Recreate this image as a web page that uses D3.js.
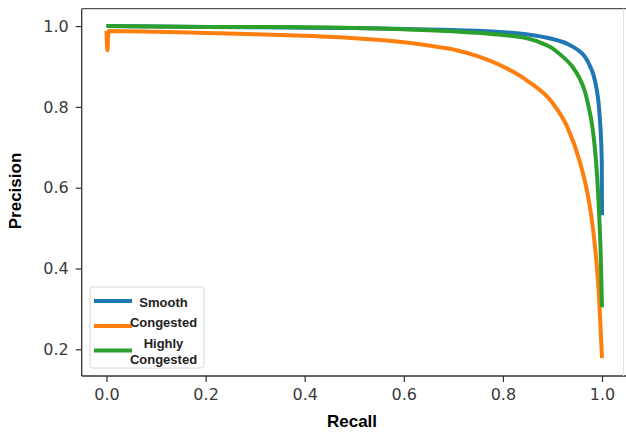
<!DOCTYPE html>
<html>
<head>
<meta charset="utf-8">
<script src="https://cdn.jsdelivr.net/npm/d3@7"></script>
<style>
  html, body { margin: 0; padding: 0; background: #fff; }
  svg { display: block; }
</style>
</head>
<body>
<svg id="chart" width="626" height="432"></svg>
<script>
// Precision-recall curves, one per traffic class.
const seriesNames = ["Smooth", "Congested", "Highly Congested"];
const seriesColors = ["#1f77b4", "#ff7f0e", "#2ca02c"];

const smoothRecall    = [0, 0.1, 0.2, 0.3, 0.4, 0.5, 0.6, 0.7, 0.8, 0.85, 0.9, 0.93, 0.95, 0.965, 0.975, 0.983, 0.989, 0.993, 0.996, 0.998, 0.9995, 1.0];
const smoothPrecision = [1.0, 0.999, 0.998, 0.997, 0.996, 0.995, 0.993, 0.99, 0.985, 0.979, 0.968, 0.956, 0.942, 0.925, 0.903, 0.878, 0.845, 0.81, 0.765, 0.72, 0.66, 0.532];

const congRecall    = [0, 0.002, 0.004, 0.1, 0.2, 0.3, 0.4, 0.5, 0.6, 0.65, 0.7, 0.75, 0.8, 0.85, 0.9, 0.93, 0.955, 0.97, 0.98, 0.987, 0.994, 1.0];
const congPrecision = [0.988, 0.94, 0.988, 0.986, 0.983, 0.98, 0.976, 0.97, 0.96, 0.952, 0.942, 0.925, 0.9, 0.864, 0.81, 0.75, 0.665, 0.59, 0.515, 0.44, 0.33, 0.178];

const highRecall    = [0, 0.2, 0.4, 0.6, 0.7, 0.8, 0.84, 0.87, 0.9, 0.92, 0.94, 0.955, 0.965, 0.973, 0.98, 0.985, 0.99, 0.994, 0.997, 1.0];
const highPrecision = [1.0, 0.998, 0.997, 0.992, 0.987, 0.978, 0.972, 0.962, 0.945, 0.925, 0.9, 0.87, 0.84, 0.8, 0.755, 0.705, 0.63, 0.54, 0.45, 0.304];

const xTicks = [0.0, 0.2, 0.4, 0.6, 0.8, 1.0];
const yTicks = [0.2, 0.4, 0.6, 0.8, 1.0];

// legend labels wrap like in the original figure
const legendLines = [["Smooth"], ["Congested"], ["Highly", "Congested"]];

const series = [
  {name: seriesNames[0], color: seriesColors[0], values: smoothRecall.map((r, i) => ({r, p: smoothPrecision[i]}))},
  {name: seriesNames[1], color: seriesColors[1], values: congRecall.map((r, i) => ({r, p: congPrecision[i]}))},
  {name: seriesNames[2], color: seriesColors[2], values: highRecall.map((r, i) => ({r, p: highPrecision[i]}))}
];

const svg = d3.select("#chart");

const plot = {left: 81.7, right: 626.8, top: 8.7, bottom: 376};

const x = d3.scaleLinear().domain([-0.05, 1.05]).range([plot.left, plot.right]);
const y = d3.scaleLinear().domain([0.134, 1.043]).range([plot.bottom, plot.top]);

// lines
const line = d3.line()
  .x(d => x(d.r))
  .y(d => y(d.p))
  .curve(d3.curveMonotoneX);

svg.append("g")
  .selectAll("path")
  .data(series)
  .join("path")
    .attr("d", d => line(d.values))
    .attr("fill", "none")
    .attr("stroke", d => d.color)
    .attr("stroke-width", 4)
    .attr("stroke-linejoin", "round");

// axes
const xAxis = svg.append("g")
  .attr("transform", `translate(0,${plot.bottom})`)
  .call(d3.axisBottom(x).tickValues(xTicks).tickFormat(d3.format(".1f")).tickSizeInner(6).tickSizeOuter(0).tickPadding(7));

const yAxis = svg.append("g")
  .attr("transform", `translate(${plot.left},0)`)
  .call(d3.axisLeft(y).tickValues(yTicks).tickFormat(d3.format(".1f")).tickSizeInner(6).tickSizeOuter(0).tickPadding(7));

[xAxis, yAxis].forEach(a => {
  a.select(".domain").remove();
  a.selectAll(".tick line").attr("stroke", "#333").attr("stroke-width", 1.2);
  a.selectAll(".tick text")
    .attr("fill", "#3a3a3a")
    .style("font-family", "'DejaVu Sans', sans-serif")
    .style("font-size", "16px");
});

// frame
svg.append("line").attr("x1", plot.left).attr("x2", plot.left).attr("y1", plot.top).attr("y2", plot.bottom)
  .attr("stroke", "#333").attr("stroke-width", 1.3);
svg.append("line").attr("x1", plot.left).attr("x2", 626).attr("y1", plot.bottom).attr("y2", plot.bottom)
  .attr("stroke", "#333").attr("stroke-width", 1.3);
svg.append("line").attr("x1", plot.left).attr("x2", 626).attr("y1", plot.top).attr("y2", plot.top)
  .attr("stroke", "#555").attr("stroke-width", 1.3);
svg.append("line").attr("x1", 623.5).attr("x2", 623.5).attr("y1", plot.top).attr("y2", plot.bottom)
  .attr("stroke", "#e4e4e4").attr("stroke-width", 1);

// axis titles
svg.append("text")
  .attr("x", 352).attr("y", 427)
  .attr("text-anchor", "middle")
  .style("font-family", "'Liberation Sans', Arial, sans-serif")
  .style("font-weight", "bold")
  .style("font-size", "17px")
  .text("Recall");

svg.append("text")
  .attr("transform", "translate(21,191) rotate(-90)")
  .attr("text-anchor", "middle")
  .style("font-family", "'Liberation Sans', Arial, sans-serif")
  .style("font-weight", "bold")
  .style("font-size", "17px")
  .text("Precision");

// legend
const legend = svg.append("g");
legend.append("rect")
  .attr("x", 90).attr("y", 287).attr("width", 114).attr("height", 81)
  .attr("rx", 3)
  .attr("fill", "#fff").attr("fill-opacity", 0.85)
  .attr("stroke", "#d8d8d8");

const lineY = [301, 326, 350.5];
const textBase = [[306.5], [326.5], [347.5, 363.5]];

const item = legend.selectAll("g.item")
  .data(series)
  .join("g")
  .attr("class", "item");

item.append("line")
  .attr("x1", 94).attr("x2", 132)
  .attr("y1", (d, i) => lineY[i]).attr("y2", (d, i) => lineY[i])
  .attr("stroke", d => d.color)
  .attr("stroke-width", 4);

item.each(function(d, i) {
  d3.select(this).selectAll("text")
    .data(legendLines[i])
    .join("text")
      .attr("x", 163.5)
      .attr("y", (t, j) => textBase[i][j])
      .attr("text-anchor", "middle")
      .attr("fill", "#222")
      .style("font-family", "'Liberation Sans', Arial, sans-serif")
      .style("font-weight", "bold")
      .style("font-size", "13px")
      .text(t => t);
});
</script>
</body>
</html>
